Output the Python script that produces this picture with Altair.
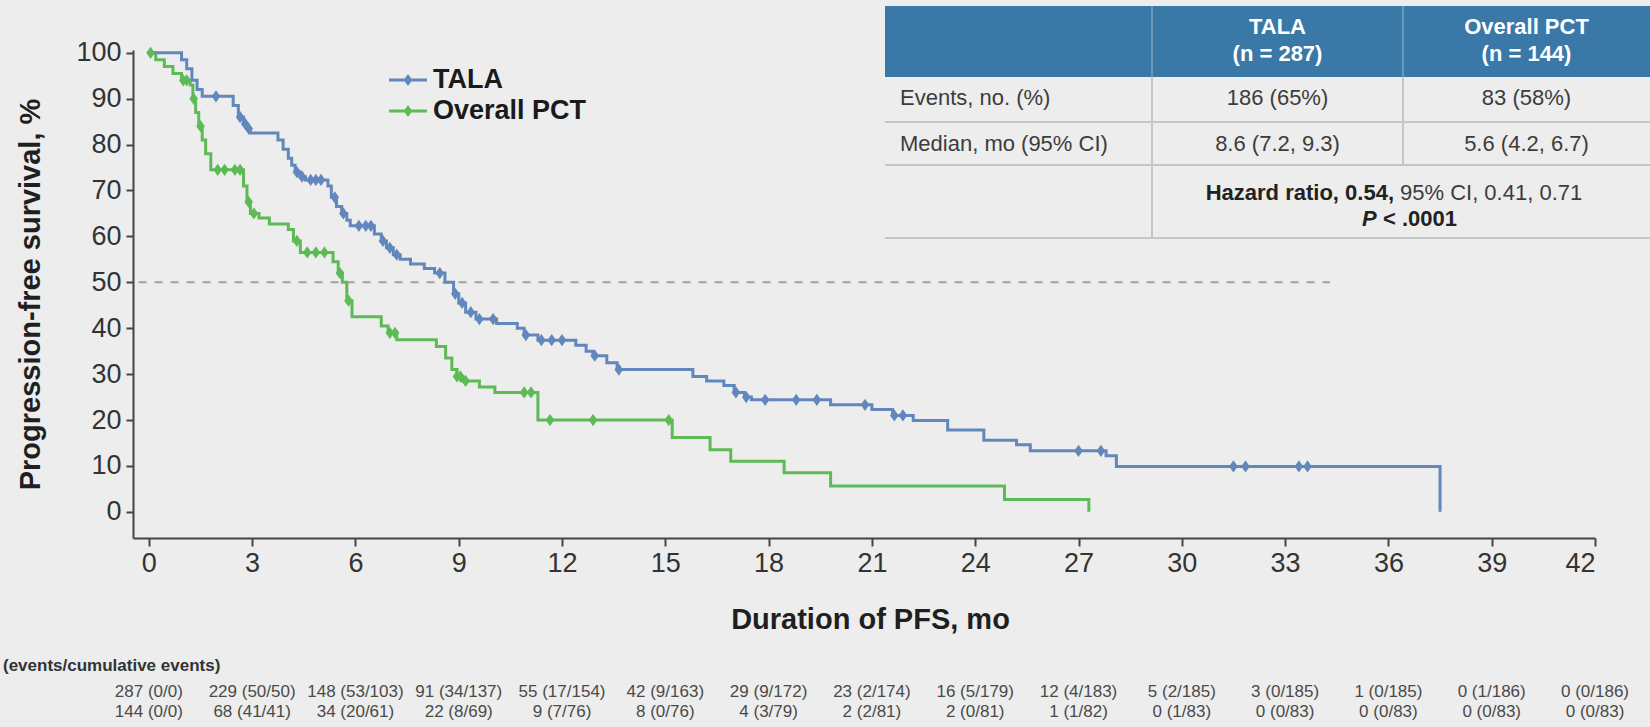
import altair as alt
import pandas as pd

# ---------------------------------------------------------------------------
# Kaplan-Meier curves: month of each step and progression-free survival (%)
# reached at that step
# ---------------------------------------------------------------------------
TALA_T = [0, 0.95, 1.1, 1.25, 1.4, 1.55, 2.45, 2.6, 2.75, 2.85,
          2.95, 3.75, 3.9, 4.05, 4.15, 4.25, 4.4, 4.55, 5.2, 5.3,
          5.45, 5.6, 5.75, 5.85, 6.55, 6.75, 6.9, 7.1, 7.3, 7.6,
          8.0, 8.3, 8.6, 8.85, 9.0, 9.2, 9.5, 10.1, 10.7, 10.9,
          11.3, 12.4, 12.7, 12.9, 13.3, 13.6, 15.8, 16.2, 16.7, 17.0,
          17.3, 17.5, 19.8, 21.0, 21.6, 22.2, 23.2, 24.25, 25.2, 25.6,
          27.8, 28.1, 37.5, 37.5]
TALA_S = [100, 98.5, 96.5, 94, 92, 90.5, 88.5, 86, 84.5, 83.5,
          82.5, 81, 79, 77, 75.5, 74, 73, 72.3, 71, 68.5,
          66.5, 65, 63.5, 62.3, 60.5, 59, 57.5, 56, 55, 54,
          53, 52, 50, 47.5, 45.5, 43.5, 42, 41, 40, 38.5,
          37.4, 36.3, 35, 34, 32.5, 31, 29.5, 28.5, 27.5, 26,
          25, 24.4, 23.3, 22.3, 21, 19.9, 17.8, 15.6, 14.6, 13.3,
          12.2, 9.9, 9.9, 0]

PCT_T = [0, 0.2, 0.45, 0.7, 0.95, 1.2, 1.28, 1.36, 1.45, 1.55,
         1.65, 1.8, 2.75, 2.85, 2.95, 3.2, 3.5, 4.05, 4.2, 4.4,
         5.35, 5.5, 5.62, 5.75, 5.9, 6.75, 6.95, 7.2, 8.35, 8.62,
         8.8, 8.95, 9.1, 9.6, 10.05, 11.3, 15.2, 16.3, 16.9, 18.45,
         19.8, 24.85, 27.3]
PCT_S = [100, 98.5, 97, 95.5, 94, 93, 90, 87, 84, 81,
         78, 74.5, 71, 67.5, 65, 64, 62.7, 61.5, 59, 56.5,
         54.5, 52, 50, 46, 42.5, 40.5, 39, 37.5, 36, 33.5,
         31, 29.5, 28.5, 27.2, 26, 20, 16.2, 13.5, 11, 8.5,
         5.6, 2.7, 0]

# censoring times (months)
TALA_CENSOR = [1.95, 2.65, 2.8, 2.9, 4.3, 4.45, 4.7, 4.85, 5.0, 5.4,
               5.65, 6.1, 6.3, 6.45, 6.8, 7.0, 7.2, 8.45, 8.9, 9.1,
               9.35, 9.6, 10.0, 10.95, 11.4, 11.7, 12.0, 12.95, 13.65, 17.05,
               17.35, 17.9, 18.8, 19.4, 20.8, 21.65, 21.9, 27.0, 27.65, 31.5,
               31.85, 33.4, 33.65]
PCT_CENSOR = [0.05, 1.0, 1.1, 1.3, 1.5, 2.0, 2.2, 2.5, 2.65, 2.9,
              3.05, 4.3, 4.6, 4.85, 5.1, 5.55, 5.8, 7.0, 7.15, 8.95,
              9.05, 9.2, 10.9, 11.1, 11.65, 12.9, 15.1]

ARMS = ["TALA", "Overall PCT"]

# events / cumulative events under the time axis
RISK_MONTHS = list(range(0, 43, 3))
TALA_RISK = ["287 (0/0)", "229 (50/50)", "148 (53/103)", "91 (34/137)",
             "55 (17/154)", "42 (9/163)", "29 (9/172)", "23 (2/174)",
             "16 (5/179)", "12 (4/183)", "5 (2/185)", "3 (0/185)",
             "1 (0/185)", "0 (1/186)", "0 (0/186)"]
PCT_RISK = ["144 (0/0)", "68 (41/41)", "34 (20/61)", "22 (8/69)",
            "9 (7/76)", "8 (0/76)", "4 (3/79)", "2 (2/81)",
            "2 (0/81)", "1 (1/82)", "0 (1/83)", "0 (0/83)",
            "0 (0/83)", "0 (0/83)", "0 (0/83)"]

# summary table
TABLE_HEAD = [["TALA", "(n = 287)"], ["Overall PCT", "(n = 144)"]]
TABLE_ROWS = ["Events, no. (%)", "Median, mo (95% CI)"]
TALA_COL = ["186 (65%)", "8.6 (7.2, 9.3)"]
PCT_COL = ["83 (58%)", "5.6 (4.2, 6.7)"]
HR_BOLD = "Hazard ratio, 0.54,"
HR_REST = "95% CI, 0.41, 0.71"
P_ITALIC = "P"
P_REST = "< .0001"

# ---------------------------------------------------------------------------
BLUE = "#6287bd"
GREEN = "#5cbb55"
HEAD_BLUE = "#3a78a7"
BG = "#ecedec"
INK = "#222222"
FONT = "Liberation Sans"

LEFT, TOP = 133, 50          # plot origin on the page
W, H = 1462, 488             # plot area
X_SCALE = alt.Scale(domain=[-0.46, 42], nice=False, zero=False)
Y_SCALE = alt.Scale(domain=[-5.7, 100.6], nice=False, zero=False)
COLOR_SCALE = alt.Scale(domain=ARMS, range=[BLUE, GREEN])
DIAMOND = "M0,-1L0.7,0L0,1L-0.7,0Z"
MARK_SIZE = 150

ONE = pd.DataFrame({"k": [0]})


def px(x):
    return x - LEFT


def py(y):
    return y - TOP


def text(txt, x, y, size, weight="normal", color=INK, align="left",
         style="normal", font=FONT):
    return alt.Chart(ONE).mark_text(
        align=align, baseline="middle", fontSize=size, fontWeight=weight,
        fontStyle=style, color=color, font=font
    ).encode(x=alt.value(px(x)), y=alt.value(py(y)), text=alt.value(txt))


def rule(x1, y1, x2, y2, color, width=2):
    return alt.Chart(ONE).mark_rule(color=color, strokeWidth=width).encode(
        x=alt.value(px(x1)), x2=alt.value(px(x2)),
        y=alt.value(py(y1)), y2=alt.value(py(y2)))


def step_value(ts, ss, t):
    i = max(k for k, v in enumerate(ts) if v <= t)
    return ss[i]


curves = pd.concat([
    pd.DataFrame({"arm": "Overall PCT", "t": PCT_T, "s": PCT_S,
                  "order": range(len(PCT_T))}),
    pd.DataFrame({"arm": "TALA", "t": TALA_T, "s": TALA_S,
                  "order": range(len(TALA_T))}),
])
censor = pd.concat([
    pd.DataFrame({"arm": "Overall PCT", "t": PCT_CENSOR,
                  "s": [step_value(PCT_T, PCT_S, t) for t in PCT_CENSOR]}),
    pd.DataFrame({"arm": "TALA", "t": TALA_CENSOR,
                  "s": [step_value(TALA_T, TALA_S, t) for t in TALA_CENSOR]}),
])
risk = pd.DataFrame({"month": RISK_MONTHS, "tala": TALA_RISK, "pct": PCT_RISK})

x_axis = alt.Axis(values=RISK_MONTHS, tickSize=8, labelPadding=4,
                  title="Duration of PFS, mo", titleX=737, titleY=81,
                  titleBaseline="middle", titleAlign="center")
y_axis = alt.Axis(values=list(range(0, 101, 10)), tickSize=7, labelPadding=5,
                  title="Progression-free survival, %", titleX=-103, titleY=244,
                  titleAngle=-90, titleAlign="center", titleBaseline="middle")

lines = alt.Chart(curves).mark_line(
    interpolate="step-after", strokeWidth=3
).encode(
    x=alt.X("t:Q", scale=X_SCALE, axis=x_axis),
    y=alt.Y("s:Q", scale=Y_SCALE, axis=y_axis),
    color=alt.Color("arm:N", scale=COLOR_SCALE, legend=None),
    order="order:Q",
)

marks = alt.Chart(censor).mark_point(
    shape=DIAMOND, filled=True, size=MARK_SIZE, opacity=1
).encode(
    x="t:Q", y="s:Q",
    color=alt.Color("arm:N", scale=COLOR_SCALE, legend=None),
)

median_line = alt.Chart(ONE).mark_rule(
    color="#a0a0a0", strokeWidth=2, strokeDash=[8, 8]
).encode(x=alt.datum(-0.3), x2=alt.datum(34.3), y=alt.datum(50))

risk_tala = alt.Chart(risk).mark_text(
    fontSize=17, color="#4a4a4a", font=FONT, baseline="middle"
).encode(x="month:Q", y=alt.value(py(692)), text="tala:N")
risk_pct = alt.Chart(risk).mark_text(
    fontSize=17, color="#4a4a4a", font=FONT, baseline="middle"
).encode(x="month:Q", y=alt.value(py(712)), text="pct:N")

# legend
legend = []
for arm, color, y in [("TALA", BLUE, 80), ("Overall PCT", GREEN, 111)]:
    legend.append(rule(389, y, 427, y, color, 3))
    legend.append(alt.Chart(ONE).mark_point(
        shape=DIAMOND, filled=True, size=MARK_SIZE, opacity=1, color=color
    ).encode(x=alt.value(px(408)), y=alt.value(py(y))))
    legend.append(text(arm, 433, y, 27, weight="bold", color="#1a1a1a"))

# summary table
GRID = "#c6c6c6"
T_LEFT, C1, C2, T_RIGHT = 885, 1152, 1403, 1650
C1_MID, C2_MID = (C1 + C2) / 2, (C2 + T_RIGHT) / 2
table = [
    alt.Chart(ONE).mark_rect(color=HEAD_BLUE).encode(
        x=alt.value(px(T_LEFT)), x2=alt.value(px(T_RIGHT)),
        y=alt.value(py(6)), y2=alt.value(py(77))),
    rule(C1, 6, C1, 77, "#7ea3c3", 1.5),
    rule(C2, 6, C2, 77, "#7ea3c3", 1.5),
    rule(T_LEFT, 122, T_RIGHT, 122, GRID),
    rule(T_LEFT, 165, T_RIGHT, 165, GRID),
    rule(T_LEFT, 238, T_RIGHT, 238, GRID),
    rule(C1, 77, C1, 238, GRID),
    rule(C2, 77, C2, 165, GRID),
]
for mid, (l1, l2) in zip([C1_MID, C2_MID], TABLE_HEAD):
    table.append(text(l1, mid, 27, 22, "bold", "white", "center"))
    table.append(text(l2, mid, 54, 22, "bold", "white", "center"))
for y, lab, a, b in zip([98, 144], TABLE_ROWS, TALA_COL, PCT_COL):
    table.append(text(lab, 900, y, 22, color="#3c3c3c"))
    table.append(text(a, C1_MID, y, 22, color="#3c3c3c", align="center"))
    table.append(text(b, C2_MID, y, 22, color="#3c3c3c", align="center"))
table.append(text(HR_BOLD, 1394, 193, 22, "bold", INK, "right"))
table.append(text(HR_REST, 1400, 193, 22, color="#3c3c3c"))
table.append(text(P_ITALIC, 1362, 219, 22, "bold", INK, style="italic"))
table.append(text(P_REST, 1383, 219, 22, "bold", INK))

caption = text("(events/cumulative events)", 3, 666, 17, "bold", "#333333")

chart = alt.layer(
    median_line, lines, marks, risk_tala, risk_pct, caption,
    *legend, *table
).properties(
    width=W, height=H, background=BG,
    padding={"left": LEFT, "top": TOP, "right": 1650 - LEFT - W,
             "bottom": 727 - TOP - H},
    autosize=alt.AutoSizeParams(type="none"),
).configure_view(stroke=None).configure_axis(
    grid=False, domainColor="#454545", tickColor="#454545",
    domainWidth=2, tickWidth=2, labelFont=FONT, labelFontSize=27,
    labelColor="#333333", titleFont=FONT, titleFontSize=29,
    titleFontWeight="bold", titleColor="#1f1f1f",
)

chart.save("out.html", embed_options={"renderer": "svg", "actions": False})
